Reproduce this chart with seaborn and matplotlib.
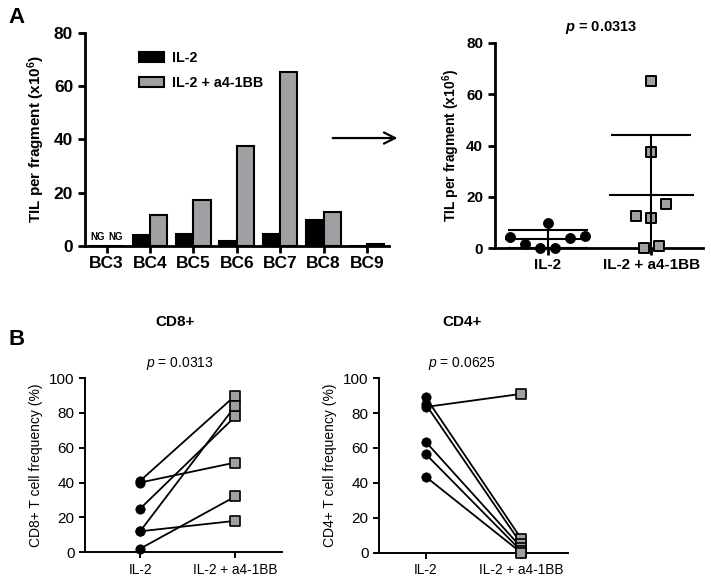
import numpy as np
import pandas as pd
import matplotlib
matplotlib.use("Agg")
import matplotlib.pyplot as plt
import seaborn as sns
from matplotlib.patches import FancyArrowPatch

sns.set_style("ticks")
plt.rcParams['font.family'] = ['Liberation Sans', 'DejaVu Sans']
plt.rcParams['mathtext.fontset'] = 'custom'
plt.rcParams['mathtext.rm'] = 'Liberation Sans'
plt.rcParams['mathtext.it'] = 'Liberation Sans:italic'
plt.rcParams['mathtext.bf'] = 'Liberation Sans:bold'
plt.rcParams['mathtext.bfit'] = 'Liberation Sans:italic:bold'
for k in ('text.color', 'axes.labelcolor', 'xtick.color', 'ytick.color', 'axes.edgecolor'):
    plt.rcParams[k] = 'black'

# panel A data (TIL per fragment, x10^6)
samples = ['BC3', 'BC4', 'BC5', 'BC6', 'BC7', 'BC8', 'BC9']
til_il2 = [0, 4.0, 4.6, 1.8, 4.4, 9.8, 0]
til_combo = [0, 11.7, 17.4, 37.4, 65.2, 12.7, 0.8]
conditions = ['IL-2', 'IL-2 + a4-1BB']

# panel B data (% of T cells), paired by patient
cd8_il2 = [41, 40, 25, 12, 12, 2]
cd8_combo = [90, 51.5, 78, 84, 18, 32]
cd4_il2 = [89, 85, 83.5, 63.5, 56.5, 43.5]
cd4_combo = [8, 5, 91, 3, 1, 0]

GRAY = '#a0a0a4'


def spread(vals, bin_size=9.0, step=0.145):
    # prism-like scatter: points in the same value bin are fanned out sideways,
    # lowest values in the middle
    vals = np.asarray(vals, dtype=float)
    off = np.zeros(len(vals))
    bins = np.floor(vals / bin_size)
    for b in np.unique(bins):
        idx = np.where(bins == b)[0]
        idx = idx[np.argsort(vals[idx], kind='stable')]
        n = len(idx)
        if n < 2:
            continue
        if n % 2:
            slots = [0.0]
            for k in range(1, n // 2 + 1):
                slots += [-k * step, k * step]
        else:
            slots = []
            for k in range(n // 2):
                slots += [-(k + 0.5) * step, (k + 0.5) * step]
        off[idx] = slots[:n]
    return off


bars = pd.DataFrame({
    'sample': samples * 2,
    'til': til_il2 + til_combo,
    'cond': [conditions[0]] * 7 + [conditions[1]] * 7,
})

fig = plt.figure(figsize=(7.11, 5.8), dpi=100)
ax1 = fig.add_axes([0.1195, 0.576, 0.427, 0.367])
ax2 = fig.add_axes([0.696, 0.572, 0.293, 0.354])
ax3 = fig.add_axes([0.1195, 0.048, 0.277, 0.300])
ax4 = fig.add_axes([0.533, 0.047, 0.266, 0.301])

# --- A left: grouped bars
sns.barplot(data=bars, x='sample', y='til', hue='cond', palette=['black', GRAY],
            edgecolor='black', linewidth=1.5, width=0.8, ax=ax1)
ax1.set_ylim(0, 80)
ax1.set_xlim(-0.5, 6.5)
ax1.set_yticks([0, 20, 40, 60, 80])
ax1.set_xlabel('')
ax1.set_ylabel('TIL per fragment (x10$^{\\mathbf{6}}$)', fontsize=11, fontweight='bold', labelpad=5)
ax1.legend(title=None, frameon=False, loc='upper left', bbox_to_anchor=(0.135, 0.975),
           prop={'weight': 'bold', 'size': 10.3}, handlelength=1.75, handleheight=0.65,
           handletextpad=0.6, labelspacing=0.75)
for xx in (-0.2, 0.2):
    ax1.text(xx, 1.5, 'NG', ha='center', va='bottom', fontsize=7, fontweight='bold')

# --- A right: scatter with mean +/- SD
scat = pd.DataFrame({'cond': [conditions[0]] * 7 + [conditions[1]] * 7,
                     'til': til_il2 + til_combo})
scat['x'] = np.concatenate([i + spread(scat.loc[scat.cond == c, 'til'])
                            for i, c in enumerate(conditions)])
sns.scatterplot(data=scat[scat.cond == conditions[0]], x='x', y='til', color='black',
                marker='o', s=52, edgecolor='black', ax=ax2, zorder=4, clip_on=False)
sns.scatterplot(data=scat[scat.cond == conditions[1]], x='x', y='til', color=GRAY,
                marker='s', s=50, edgecolor='black', linewidth=1.4, ax=ax2, zorder=4,
                clip_on=False)
for i, c in enumerate(conditions):
    vals = scat.loc[scat.cond == c, 'til'].to_numpy()
    m, sd = vals.mean(), vals.std(ddof=1)
    ax2.hlines(m, i - 0.41, i + 0.41, color='black', lw=1.5, zorder=5)
    ax2.errorbar(i, m, yerr=sd, color='black', lw=1.5, capsize=29, capthick=1.5, zorder=5)
ax2.set_ylim(0, 80)
ax2.set_xlim(-0.51, 1.5)
ax2.set_xticks([0, 1], conditions)
ax2.set_yticks([0, 20, 40, 60, 80])
ax2.set_xlabel('')
ax2.set_ylabel('TIL per fragment (x10$^{\\mathbf{6}}$)', fontsize=10, fontweight='bold', labelpad=3)
fig.text(0.845, 0.953, '$\\mathbfit{p}$ = 0.0313', ha='center', va='center',
         fontsize=10.5, fontweight='bold')

for ax in (ax1, ax2):
    sns.despine(ax=ax)
    for s in ('left', 'bottom'):
        ax.spines[s].set_linewidth(2)
    ax.tick_params(width=2, length=5, direction='out')
    for lab in ax.get_xticklabels() + ax.get_yticklabels():
        lab.set_fontweight('bold')
ax1.tick_params(labelsize=12.5)
ax1.tick_params(axis='x', pad=2)
ax2.tick_params(labelsize=11)
ax2.tick_params(axis='x', pad=2)

# arrow between panels
fig.add_artist(FancyArrowPatch((0.464, 0.762), (0.563, 0.762), transform=fig.transFigure,
                               arrowstyle='->,head_length=8,head_width=4', lw=1.6,
                               color='black'))


# --- B: paired lines
def paired(ax, pre, post, ylabel):
    n = len(pre)
    df = pd.DataFrame({'pair': list(range(n)) * 2, 'pos': [0] * n + [1] * n,
                       'val': pre + post})
    sns.lineplot(data=df, x='pos', y='val', units='pair', estimator=None,
                 color='black', lw=1.3, ax=ax)
    sns.scatterplot(data=df[df.pos == 0], x='pos', y='val', color='black', marker='o',
                    s=45, edgecolor='black', ax=ax, zorder=5, clip_on=False)
    sns.scatterplot(data=df[df.pos == 1], x='pos', y='val', color=GRAY, marker='s',
                    s=42, edgecolor='black', linewidth=1.2, ax=ax, zorder=5, clip_on=False)
    ax.set_ylim(0, 100)
    ax.set_yticks([0, 20, 40, 60, 80, 100])
    ax.set_xticks([0, 1], conditions)
    ax.set_xlabel('')
    ax.set_ylabel(ylabel, fontsize=10, labelpad=4)
    sns.despine(ax=ax)
    for s in ('left', 'bottom'):
        ax.spines[s].set_linewidth(1.4)
    ax.tick_params(width=1.4, length=4)
    ax.tick_params(axis='y', labelsize=11)
    ax.tick_params(axis='x', labelsize=9.8)


paired(ax3, cd8_il2, cd8_combo, 'CD8+ T cell frequency (%)')
ax3.set_xlim(-0.58, 1.49)
paired(ax4, cd4_il2, cd4_combo, 'CD4+ T cell frequency (%)')
ax4.set_xlim(-0.49, 1.49)

fig.text(0.246, 0.445, 'CD8+', ha='center', va='center', fontsize=11, fontweight='bold')
fig.text(0.253, 0.374, '$\\it{p}$ = 0.0313', ha='center', va='center', fontsize=10)
fig.text(0.650, 0.445, 'CD4+', ha='center', va='center', fontsize=11, fontweight='bold')
fig.text(0.650, 0.374, '$\\it{p}$ = 0.0625', ha='center', va='center', fontsize=10)

fig.text(0.023, 0.970, 'A', ha='center', va='center', fontsize=16, fontweight='bold')
fig.text(0.023, 0.414, 'B', ha='center', va='center', fontsize=16, fontweight='bold')

fig.savefig('out.png', dpi=100)
